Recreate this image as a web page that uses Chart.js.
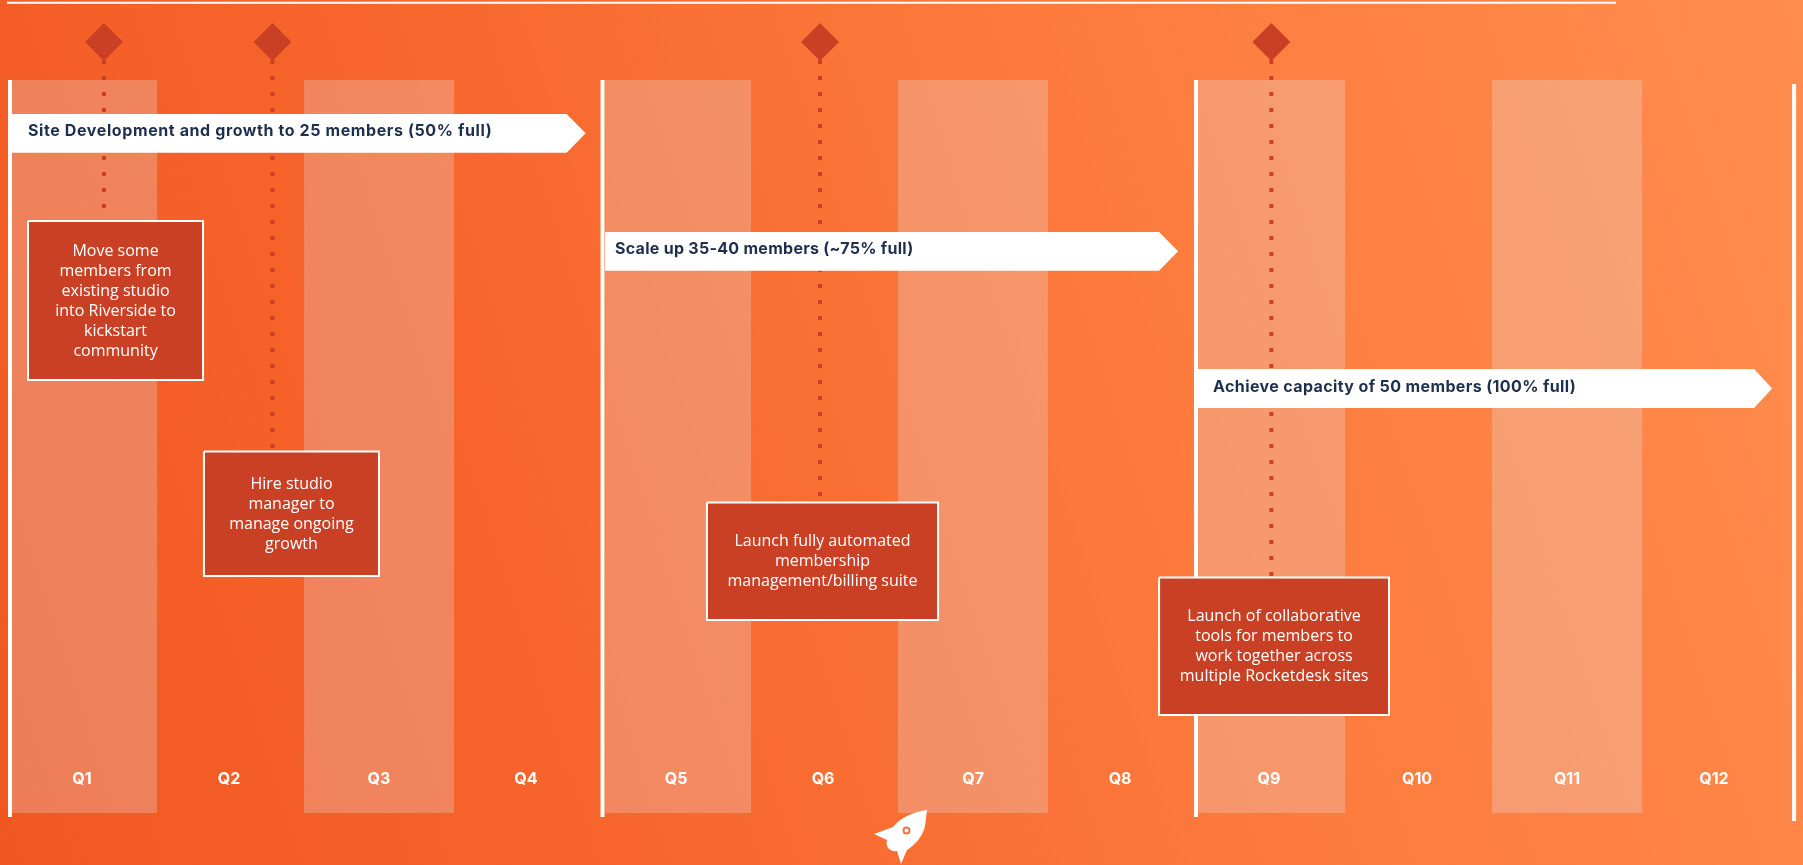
<!DOCTYPE html>
<html>
<head>
<meta charset="utf-8">
<style>
html,body{margin:0;padding:0;width:1803px;height:865px;overflow:hidden;background:linear-gradient(72deg,#f15821 0%,#f7652c 30%,#fd7a3c 62%,#ff8d4e 100%);}
#wrap{position:relative;width:1803px;height:865px;}
canvas{position:absolute;left:0;top:0;}
svg{position:absolute;left:0;top:0;}
</style>
<script src="https://cdn.jsdelivr.net/npm/chart.js@4/dist/chart.umd.min.js"></script>
</head>
<body>
<div id="wrap">
<canvas id="c" width="1803" height="865"></canvas>
<svg width="1803" height="865" aria-hidden="true">
<path d="M927 810 C912 812 900 818 893 827 L874 834 L887 840 C885 847 890 852 897 851 L901 864 L907 850 C915 845 923 836 925 826 Z" fill="#fff"/>
<circle cx="906.5" cy="830.5" r="3" fill="#fff" stroke="#fb7238" stroke-width="2"/>
</svg>
</div>
<script>
// horizontal unit: quarters from the start of the timeline; vertical unit: percent of picture height
const quarters = ['Q1','Q2','Q3','Q4','Q5','Q6','Q7','Q8','Q9','Q10','Q11','Q12'];
const quarterCentres = [0.472,1.463,2.474,3.465,4.477,5.468,6.479,7.470,8.474,9.472,10.483,11.474];
const bandStarts = [0,1.969,3.998,5.973,7.996,9.978];
const bandEnds = [0.978,2.980,4.982,6.984,8.987,10.989];
const dividerX = [-0.0135,3.981,7.982,12.014];
const dividerTop = [9.25,9.25,9.25,9.71];
const dividerBottom = [94.45,94.45,94.45,94.91];

const phaseLabels = ['Site Development and growth to 25 members (50% full)','Scale up 35-40 members (~75% full)','Achieve capacity of 50 members (100% full)'];
const phaseStart = [0,3.998,7.996];
const phaseShoulder = [3.739,7.733,11.744];
const phaseTip = [3.867,7.861,11.866];
const phaseTop = [13.18,26.82,42.66];
const phaseBottom = [17.65,31.29,47.17];
const phaseTextX = [0.108,4.065,8.097];
const phaseTextY = [15.21,28.75,44.71];

const milestoneX = [0.620,1.756,5.447,8.490];
const milestoneEnd = [25.55,52.14,58.03,66.7];
const milestoneLabels = [
  ['Move some','members from','existing studio','into Riverside to','kickstart','community'],
  ['Hire studio','manager to','manage ongoing','growth'],
  ['Launch fully automated','membership','management/billing suite'],
  ['Launch of collaborative','tools for members to','work together across','multiple Rocketdesk sites']
];
const boxLeft = [0.108,1.294,4.685,7.733];
const boxRight = [1.288,2.474,6.243,9.283];
const boxTop = [25.55,52.2,58.1,66.75];
const boxBottom = [43.93,66.6,71.68,82.66];

const markerY = 4.86, markerHalfX = 0.128, markerHalfY = 2.2, stemTop = 6.94, bandMiddle = 51.62;
const ruleStart = -0.034, ruleEnd = 10.814, ruleY = 0.31;
const tickRowTop = 770, tickRowBottom = 795;

const RED = '#ca4024', WHITE = '#ffffff', NAVY = '#1e2f4d';
const phaseTracking = ['0.6px','0.28px','0.38px'];
const noPoint = {pointRadius:0, pointHoverRadius:0, tension:0, clip:false};

const datasets = [];
datasets.push({type:'bar', label:'Quarter bands', indexAxis:'y', order:100, grouped:false,
  data: bandStarts.map((s,i)=>({x:[s,bandEnds[i]], y:bandMiddle})),
  backgroundColor:'rgba(228,238,250,0.25)', borderWidth:0, barPercentage:733/865, categoryPercentage:1});
milestoneX.forEach((x,i)=>{
  datasets.push({type:'line', label:'Stem '+(i+1), order:90, ...noPoint,
    data:[{x,y:stemTop},{x,y:milestoneEnd[i]}], borderColor:RED, borderWidth:4, borderDash:[4,12], fill:false});
  datasets.push({type:'line', label:'Milestone '+(i+1), order:80, ...noPoint,
    data:[{x,y:markerY-markerHalfY},{x:x+markerHalfX,y:markerY},{x,y:markerY+markerHalfY},{x:x-markerHalfX,y:markerY},{x,y:markerY-markerHalfY}],
    borderWidth:0, backgroundColor:RED, fill:'shape'});
});
dividerX.forEach((x,i)=>{
  datasets.push({type:'line', label:'Divider '+(i+1), order:70, ...noPoint,
    data:[{x,y:dividerTop[i]},{x,y:dividerBottom[i]}], borderColor:WHITE, borderWidth:4, fill:false});
});
datasets.push({type:'line', label:'Top rule', order:70, ...noPoint,
  data:[{x:ruleStart,y:ruleY},{x:ruleEnd,y:ruleY}], borderColor:WHITE, borderWidth:2, fill:false});
phaseLabels.forEach((l,i)=>{
  const mid=(phaseTop[i]+phaseBottom[i])/2;
  datasets.push({type:'line', label:l, order:60, ...noPoint,
    data:[{x:phaseStart[i],y:phaseTop[i]},{x:phaseShoulder[i],y:phaseTop[i]},{x:phaseTip[i],y:mid},{x:phaseShoulder[i],y:phaseBottom[i]},{x:phaseStart[i],y:phaseBottom[i]},{x:phaseStart[i],y:phaseTop[i]}],
    borderWidth:0, backgroundColor:WHITE, fill:'shape'});
});
milestoneLabels.forEach((l,i)=>{
  datasets.push({type:'line', label:l.join(' '), order:50, ...noPoint,
    data:[{x:boxLeft[i],y:boxTop[i]},{x:boxRight[i],y:boxTop[i]},{x:boxRight[i],y:boxBottom[i]},{x:boxLeft[i],y:boxBottom[i]},{x:boxLeft[i],y:boxTop[i]}],
    borderColor:WHITE, borderWidth:2, borderJoinStyle:'miter', backgroundColor:RED, fill:'shape'});
});

const textPlugin = {
  id:'timelineText',
  afterLayout(chart){
    // the tick row sits inside the plot, above the foot of the bands
    const x = chart.scales.x;
    x.top = tickRowTop; x.bottom = tickRowBottom;
  },
  afterDatasetsDraw(chart){
    const {ctx, scales:{x,y}} = chart;
    ctx.save();
    ctx.fillStyle = NAVY;
    ctx.font = '700 16px Inter';
    ctx.textAlign = 'left';
    ctx.textBaseline = 'middle';
    phaseLabels.forEach((l,i)=>{
      ctx.letterSpacing = phaseTracking[i];
      ctx.fillText(l, x.getPixelForValue(phaseTextX[i]), y.getPixelForValue(phaseTextY[i]));
    });
    ctx.letterSpacing = '0px';
    ctx.fillStyle = WHITE;
    ctx.font = '400 16px "Open Sans"';
    ctx.textAlign = 'center';
    milestoneLabels.forEach((lines,i)=>{
      const cx = (x.getPixelForValue(boxLeft[i])+x.getPixelForValue(boxRight[i]))/2;
      const cy = (y.getPixelForValue(boxTop[i])+y.getPixelForValue(boxBottom[i]))/2;
      lines.forEach((t,k)=>ctx.fillText(t, cx, cy+0.5+(k-(lines.length-1)/2)*20));
    });
    ctx.restore();
  }
};

new Chart(document.getElementById('c'),{
  type:'line',
  data:{datasets},
  plugins:[textPlugin],
  options:{
    responsive:false, animation:false, devicePixelRatio:1,
    layout:{padding:0, autoPadding:false},
    plugins:{legend:{display:false}, tooltip:{enabled:false}},
    events:[],
    scales:{
      x:{type:'linear', min:-0.0809, max:12.074, offset:false, position:'bottom',
        grid:{display:false, drawTicks:false}, border:{display:false},
        afterBuildTicks(s){ s.ticks = quarterCentres.map(v=>({value:v})); },
        afterFit(s){ s.height = 0; },
        ticks:{autoSkip:false, maxRotation:0, minRotation:0, z:2, padding:0, color:WHITE,
          font:{family:'Inter', weight:'700', size:16},
          callback:(v,i)=>quarters[i]}},
      y:{type:'linear', min:0, max:100, reverse:true, offset:false, display:false, ticks:{stepSize:100}}
    }
  }
});
</script>
</body>
</html>
